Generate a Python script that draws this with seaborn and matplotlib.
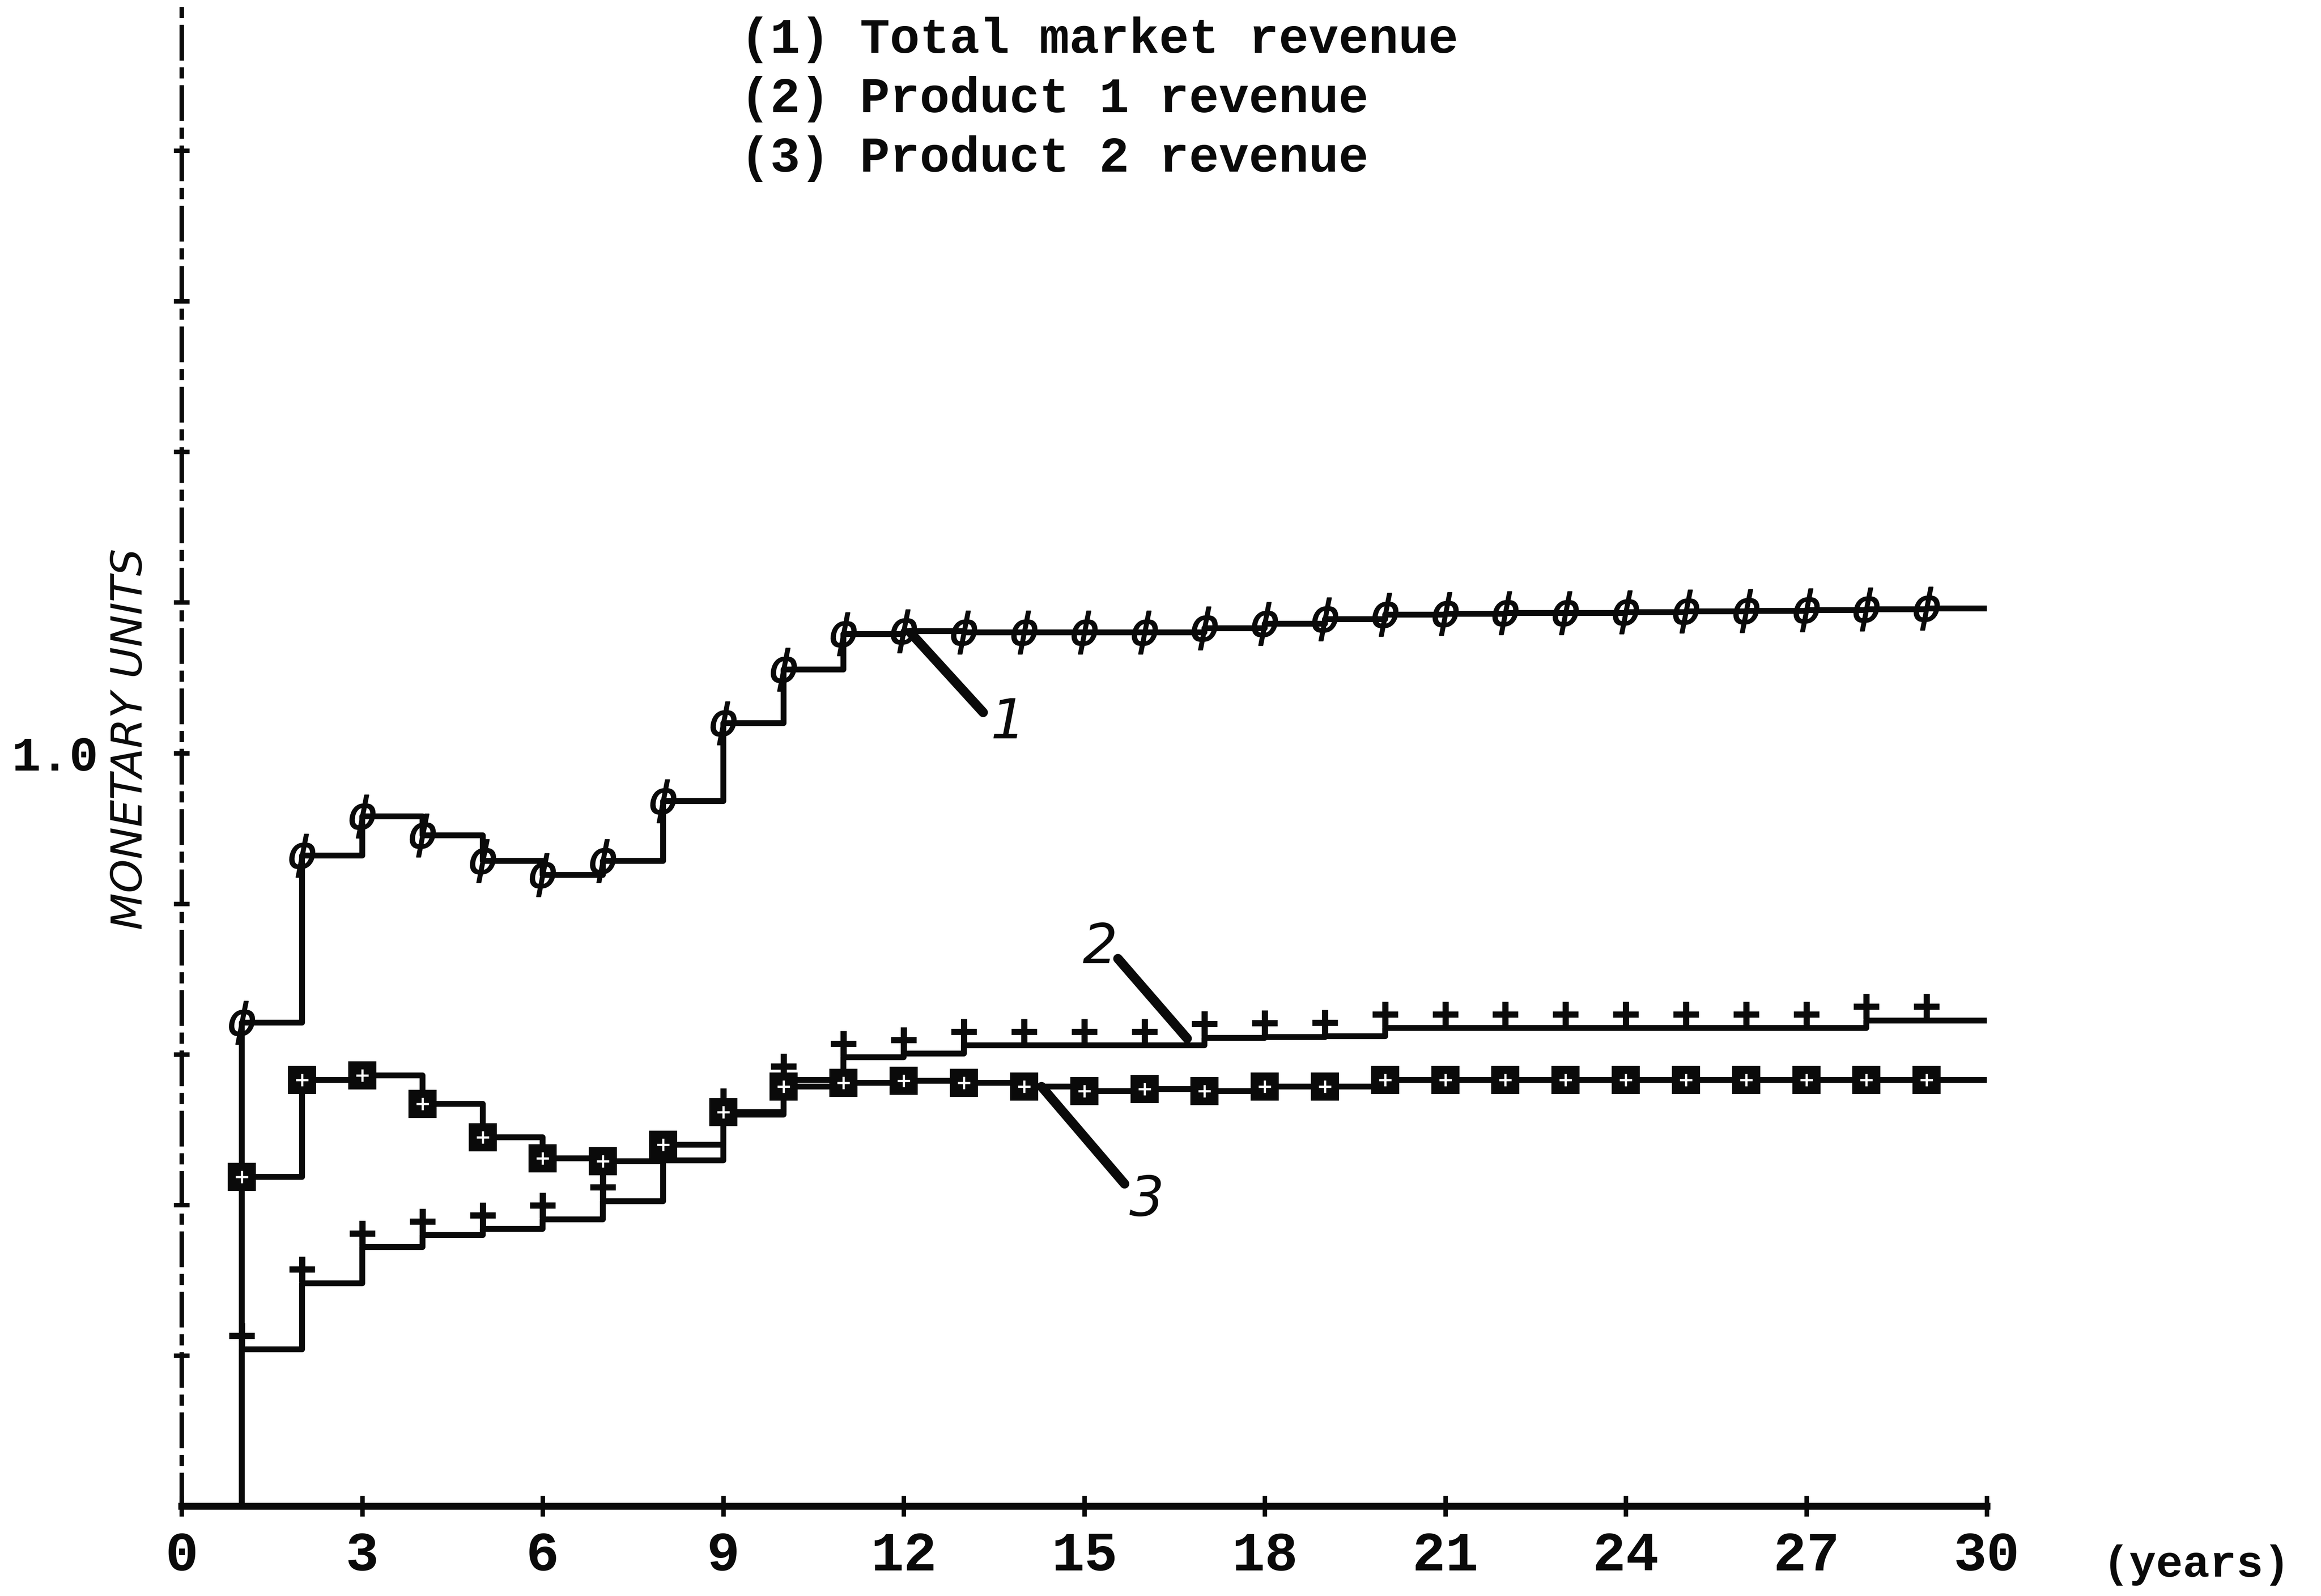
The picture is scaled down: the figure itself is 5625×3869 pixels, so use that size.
import numpy as np
import pandas as pd
import matplotlib
matplotlib.use("Agg")
import matplotlib.pyplot as plt
import matplotlib.transforms as mtransforms
import seaborn as sns

# ---- data -------------------------------------------------------------
years = list(range(1, 30))

total_revenue = [0.642, 0.864, 0.916, 0.891, 0.857, 0.838, 0.857, 0.936, 1.040,
                 1.111, 1.158, 1.162, 1.160, 1.160, 1.160, 1.160, 1.166, 1.172,
                 1.178, 1.184, 1.185, 1.186, 1.186, 1.187, 1.188, 1.189, 1.190,
                 1.191, 1.192]

product1_revenue = [0.208, 0.296, 0.344, 0.360, 0.368, 0.381, 0.405, 0.459, 0.520,
                    0.566, 0.596, 0.601, 0.612, 0.612, 0.612, 0.612, 0.622, 0.623,
                    0.624, 0.635, 0.635, 0.635, 0.635, 0.635, 0.635, 0.635, 0.635,
                    0.645, 0.645]

product2_revenue = [0.437, 0.566, 0.572, 0.534, 0.490, 0.462, 0.458, 0.480, 0.523,
                    0.557, 0.562, 0.565, 0.562, 0.557, 0.551, 0.554, 0.551, 0.557,
                    0.557, 0.566, 0.566, 0.566, 0.566, 0.566, 0.566, 0.566, 0.566,
                    0.566, 0.566]

legend_lines = ["(1) Total market revenue",
                "(2) Product 1 revenue",
                "(3) Product 2 revenue"]

x_ticks = list(range(0, 31, 3))
y_ticks = [0.2, 0.4, 0.6, 0.8, 1.0, 1.2, 1.4, 1.6, 1.8]
y_tick_labels = ["", "", "", "", "1.0", "", "", "", ""]

x_end = 30

# ---- style ------------------------------------------------------------
sns.set_theme(style="white")
plt.rcParams["font.family"] = ["Liberation Mono", "DejaVu Sans"]
INK = "#0a0a0a"

fig = plt.figure(figsize=(18.75, 12.8967), dpi=300)
ax = fig.add_axes([0.0783, 0.0563, 0.856 - 0.0783, 1.0 - 0.0563])


def step_frame(vals):
    """Step trace that rises from zero at the first year and runs to x_end."""
    xs = [years[0]] + years + [x_end]
    ys = [0.0] + list(vals) + [vals[-1]]
    return pd.DataFrame({"year": xs, "value": ys})


LW = 3.4
for vals in (total_revenue, product1_revenue, product2_revenue):
    sns.lineplot(data=step_frame(vals), x="year", y="value", ax=ax,
                 sort=False, estimator=None, color=INK, lw=LW,
                 drawstyle="steps-post", legend=False)

# markers
ax.plot(years, total_revenue, ls="none", marker=r"$\phi$", ms=25,
        color=INK, mew=0.6, zorder=4)

plus_shift = ax.transData + mtransforms.ScaledTranslation(0, 8 / 72, fig.dpi_scale_trans)
ax.plot(years, product1_revenue, ls="none", marker="+", ms=15, mew=3.6,
        color=INK, transform=plus_shift, zorder=4)

ax.plot(years, product2_revenue, ls="none", marker="s", ms=15,
        mfc=INK, mec=INK, mew=1.5, zorder=4)
ax.plot(years, product2_revenue, ls="none", marker="+", ms=7, mew=1.3,
        color="white", zorder=5)

# ---- axes -------------------------------------------------------------
ax.set_xlim(0, 30)
ax.set_ylim(0, 2.0)
ax.set_xticks(x_ticks)
ax.set_xticklabels([str(t) for t in x_ticks], fontweight="bold")
ax.set_yticks(y_ticks)
ax.set_yticklabels(y_tick_labels, fontweight="bold")
ax.set_xlabel("")
ax.set_ylabel("")

for side in ("top", "right"):
    ax.spines[side].set_visible(False)
ax.spines["bottom"].set_color(INK)
ax.spines["bottom"].set_linewidth(4.0)
ax.spines["left"].set_color(INK)
ax.spines["left"].set_linewidth(2.6)
ax.spines["left"].set_linestyle((0, (7, 2.5, 1.5, 2.5)))

ax.tick_params(axis="x", direction="inout", length=12, width=2.6, colors=INK,
               labelsize=32, pad=8)
ax.tick_params(axis="y", direction="inout", length=9, width=2.6, colors=INK,
               labelsize=28, pad=44)
ax.tick_params(left=True, bottom=True)
ax.grid(False)

# ---- text -------------------------------------------------------------
for i, line in enumerate(legend_lines):
    fig.text(0.319, 0.975 - i * 0.0372, line, fontsize=29, color=INK,
             weight="bold", ha="left", va="center")

fig.text(0.906, 0.0195, "(years)", fontsize=26, color=INK, weight="bold",
         ha="left", va="center")

fig.text(0.056, 0.537, "MONETARY UNITS", rotation=90, fontsize=25,
         family=["DejaVu Sans"], style="italic", color=INK,
         ha="center", va="center")

# hand-drawn callouts
callouts = [("1", (12.11, 1.160), (13.32, 1.054), (13.73, 1.040)),
            ("2", (16.71, 0.621), (15.56, 0.727), (15.26, 0.741)),
            ("3", (14.29, 0.557), (15.67, 0.428), (16.04, 0.406))]
for label, start, end, text_pos in callouts:
    ax.plot([start[0], end[0]], [start[1], end[1]], color=INK, lw=5.5,
            solid_capstyle="round", zorder=3)
    ax.text(text_pos[0], text_pos[1], label, fontsize=32, style="italic",
            family=["DejaVu Sans"], color=INK, ha="center", va="center")

fig.savefig("out.png", dpi=300, facecolor="white")
